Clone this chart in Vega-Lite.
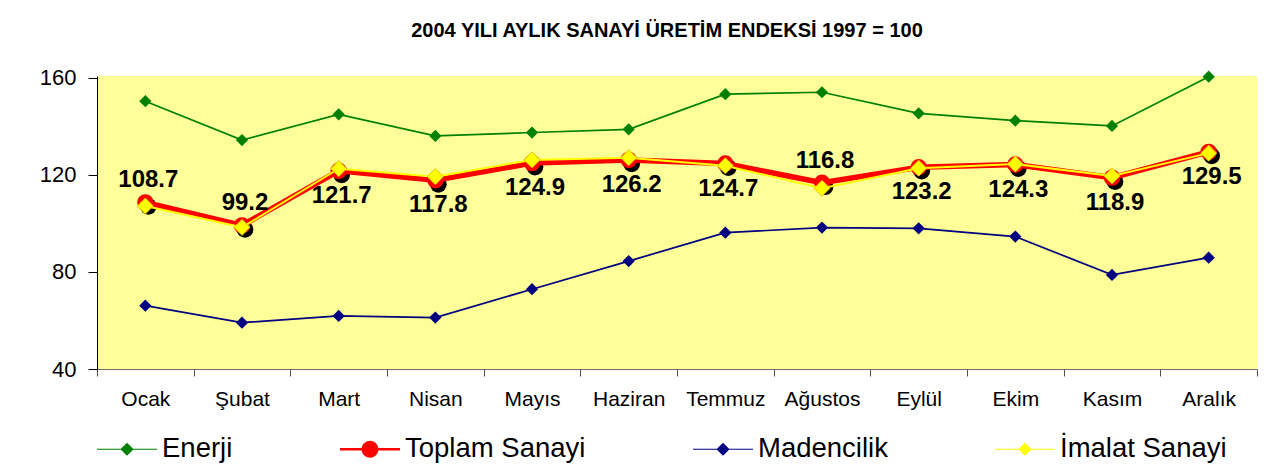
{
  "$schema": "https://vega.github.io/schema/vega-lite/v6.json",
  "autosize": {"type": "none"},
  "padding": {"left": 97, "top": 76, "right": 29, "bottom": 104},
  "width": 1160,
  "height": 293,
  "background": "white",
  "config": {
    "view": {"fill": "#FFFF99", "stroke": null},
    "font": "Liberation Sans",
    "legend": {"symbolSize": 3600}
  },
  "title": {
    "text": "2004 YILI AYLIK SANAYİ ÜRETİM ENDEKSİ 1997 = 100",
    "font": "Liberation Sans",
    "fontSize": 20,
    "fontWeight": "bold",
    "color": "black",
    "anchor": "middle",
    "frame": "group",
    "baseline": "alphabetic",
    "offset": 10,
    "dx": -10
  },
  "datasets": {
    "seri": [
      {"ay": "Ocak", "seri": "Enerji", "deger": 150.4},
      {"ay": "Şubat", "seri": "Enerji", "deger": 134.4},
      {"ay": "Mart", "seri": "Enerji", "deger": 145.0},
      {"ay": "Nisan", "seri": "Enerji", "deger": 136.1},
      {"ay": "Mayıs", "seri": "Enerji", "deger": 137.5},
      {"ay": "Haziran", "seri": "Enerji", "deger": 138.8},
      {"ay": "Temmuz", "seri": "Enerji", "deger": 153.3},
      {"ay": "Ağustos", "seri": "Enerji", "deger": 154.1},
      {"ay": "Eylül", "seri": "Enerji", "deger": 145.4},
      {"ay": "Ekim", "seri": "Enerji", "deger": 142.4},
      {"ay": "Kasım", "seri": "Enerji", "deger": 140.2},
      {"ay": "Aralık", "seri": "Enerji", "deger": 160.5},
      {"ay": "Ocak", "seri": "Madencilik", "deger": 66.1},
      {"ay": "Şubat", "seri": "Madencilik", "deger": 59.1},
      {"ay": "Mart", "seri": "Madencilik", "deger": 61.9},
      {"ay": "Nisan", "seri": "Madencilik", "deger": 61.2},
      {"ay": "Mayıs", "seri": "Madencilik", "deger": 72.9},
      {"ay": "Haziran", "seri": "Madencilik", "deger": 84.5},
      {"ay": "Temmuz", "seri": "Madencilik", "deger": 96.2},
      {"ay": "Ağustos", "seri": "Madencilik", "deger": 98.3},
      {"ay": "Eylül", "seri": "Madencilik", "deger": 98.0},
      {"ay": "Ekim", "seri": "Madencilik", "deger": 94.6},
      {"ay": "Kasım", "seri": "Madencilik", "deger": 78.8},
      {"ay": "Aralık", "seri": "Madencilik", "deger": 85.9},
      {"ay": "Ocak", "seri": "Toplam Sanayi", "deger": 108.7},
      {"ay": "Şubat", "seri": "Toplam Sanayi", "deger": 99.2},
      {"ay": "Mart", "seri": "Toplam Sanayi", "deger": 121.7},
      {"ay": "Nisan", "seri": "Toplam Sanayi", "deger": 117.8},
      {"ay": "Mayıs", "seri": "Toplam Sanayi", "deger": 124.9},
      {"ay": "Haziran", "seri": "Toplam Sanayi", "deger": 126.2},
      {"ay": "Temmuz", "seri": "Toplam Sanayi", "deger": 124.7},
      {"ay": "Ağustos", "seri": "Toplam Sanayi", "deger": 116.8},
      {"ay": "Eylül", "seri": "Toplam Sanayi", "deger": 123.2},
      {"ay": "Ekim", "seri": "Toplam Sanayi", "deger": 124.3},
      {"ay": "Kasım", "seri": "Toplam Sanayi", "deger": 118.9},
      {"ay": "Aralık", "seri": "Toplam Sanayi", "deger": 129.5},
      {"ay": "Ocak", "seri": "İmalat Sanayi", "deger": 107.2},
      {"ay": "Şubat", "seri": "İmalat Sanayi", "deger": 98.4},
      {"ay": "Mart", "seri": "İmalat Sanayi", "deger": 122.6},
      {"ay": "Nisan", "seri": "İmalat Sanayi", "deger": 119.3},
      {"ay": "Mayıs", "seri": "İmalat Sanayi", "deger": 126.2},
      {"ay": "Haziran", "seri": "İmalat Sanayi", "deger": 127.1},
      {"ay": "Temmuz", "seri": "İmalat Sanayi", "deger": 123.8},
      {"ay": "Ağustos", "seri": "İmalat Sanayi", "deger": 114.5},
      {"ay": "Eylül", "seri": "İmalat Sanayi", "deger": 122.8},
      {"ay": "Ekim", "seri": "İmalat Sanayi", "deger": 124.5},
      {"ay": "Kasım", "seri": "İmalat Sanayi", "deger": 119.6},
      {"ay": "Aralık", "seri": "İmalat Sanayi", "deger": 129.0}
    ]
  },
  "data": {"name": "seri"},
  "encoding": {
    "x": {
      "field": "ay",
      "type": "ordinal",
      "sort": ["Ocak", "Şubat", "Mart", "Nisan", "Mayıs", "Haziran", "Temmuz", "Ağustos", "Eylül", "Ekim", "Kasım", "Aralık"],
      "scale": {"type": "band", "paddingInner": 0, "paddingOuter": 0},
      "bandPosition": 0.5,
      "axis": {
        "title": null,
        "labelAngle": 0,
        "tickBand": "extent",
        "domainColor": "#707070",
        "tickColor": "#505050",
        "tickSize": 7,
        "labelPadding": 12,
        "labelFont": "Liberation Sans",
        "labelFontSize": 21,
        "labelColor": "black"
      }
    },
    "y": {
      "field": "deger",
      "type": "quantitative",
      "scale": {"domain": [40, 160.8], "nice": false, "zero": false},
      "axis": {
        "title": null,
        "values": [40, 80, 120, 160],
        "grid": false,
        "domainColor": "black",
        "tickColor": "black",
        "tickSize": 9,
        "labelPadding": 12,
        "labelFont": "Liberation Sans",
        "labelFontSize": 22,
        "labelColor": "black"
      }
    }
  },
  "layer": [
    {
      "transform": [{"filter": "datum.seri === 'Enerji' || datum.seri === 'Madencilik'"}],
      "mark": {"type": "line", "strokeWidth": 1.7},
      "encoding": {
        "color": {
          "field": "seri",
          "type": "nominal",
          "scale": {
            "domain": ["Enerji", "Toplam Sanayi", "Madencilik", "İmalat Sanayi"],
            "range": ["#008000", "#FF0000", "#000080", "#FFFF00"]
          },
          "legend": {
            "orient": "none",
            "legendX": 0,
            "legendY": 343,
            "direction": "horizontal",
            "columns": 4,
            "title": null,
            "labelFont": "Liberation Sans",
            "labelFontSize": 27.5,
            "labelColor": "black",
            "labelLimit": 0,
            "labelOffset": 5,
            "columnPadding": 107,
            "symbolSize": 3600,
            "symbolType": "M-1,-0.014H1V0.014H-1ZM0,-0.22L0.22,0L0,0.22L-0.22,0Z",
            "symbolStrokeWidth": 0,
            "encode": {
              "symbols": {
                "update": {
                  "size": {"value": 3600},
                  "shape": {"signal": "datum.value === 'Toplam Sanayi' ? 'M-1,-0.045H1V0.045H-1ZM-0.28,0A0.28,0.28 0 1,1 0.28,0A0.28,0.28 0 1,1 -0.28,0Z' : 'M-1,-0.014H1V0.014H-1ZM0,-0.22L0.22,0L0,0.22L-0.22,0Z'"},
                  "strokeWidth": {"value": 0},
                  "fill": {"signal": "scale('color', datum.value)"},
                  "fillOpacity": {"value": 1},
                  "opacity": {"value": 1}
                }
              }
            }
          }
        }
      }
    },
    {
      "transform": [{"filter": "datum.seri === 'Enerji' || datum.seri === 'Madencilik'"}],
      "mark": {"type": "point", "shape": "diamond", "filled": true, "size": 150, "opacity": 1},
      "encoding": {"color": {"field": "seri", "type": "nominal", "legend": null}}
    },
    {
      "transform": [{"filter": "datum.seri === 'Toplam Sanayi'"}],
      "mark": {"type": "point", "shape": "circle", "filled": true, "size": 280, "color": "black", "opacity": 1, "xOffset": 3, "yOffset": 4}
    },
    {
      "transform": [{"filter": "datum.seri === 'Toplam Sanayi'"}],
      "mark": {"type": "line", "strokeWidth": 5.5, "color": "#FF0000"}
    },
    {
      "transform": [{"filter": "datum.seri === 'Toplam Sanayi'"}],
      "mark": {"type": "point", "shape": "circle", "filled": true, "size": 270, "color": "#FF0000", "opacity": 1}
    },
    {
      "transform": [{"filter": "datum.seri === 'İmalat Sanayi'"}],
      "mark": {"type": "line", "strokeWidth": 2, "color": "#FFFF00"}
    },
    {
      "transform": [{"filter": "datum.seri === 'İmalat Sanayi'"}],
      "mark": {"type": "point", "shape": "diamond", "filled": true, "size": 260, "fill": "#FFFF00", "stroke": "#E0B000", "strokeWidth": 0.8, "opacity": 1}
    },
    {
      "transform": [{"filter": "datum.seri === 'Toplam Sanayi' && (datum.ay === 'Ocak' || datum.ay === 'Şubat' || datum.ay === 'Ağustos')"}],
      "mark": {"type": "text", "font": "Liberation Sans", "fontSize": 24, "fontWeight": "bold", "color": "black", "dy": -22, "dx": 3},
      "encoding": {"text": {"field": "deger", "type": "quantitative", "format": ".1f"}}
    },
    {
      "transform": [{"filter": "datum.seri === 'Toplam Sanayi' && datum.ay !== 'Ocak' && datum.ay !== 'Şubat' && datum.ay !== 'Ağustos'"}],
      "mark": {"type": "text", "font": "Liberation Sans", "fontSize": 24, "fontWeight": "bold", "color": "black", "dy": 25, "dx": 3},
      "encoding": {"text": {"field": "deger", "type": "quantitative", "format": ".1f"}}
    }
  ]
}
